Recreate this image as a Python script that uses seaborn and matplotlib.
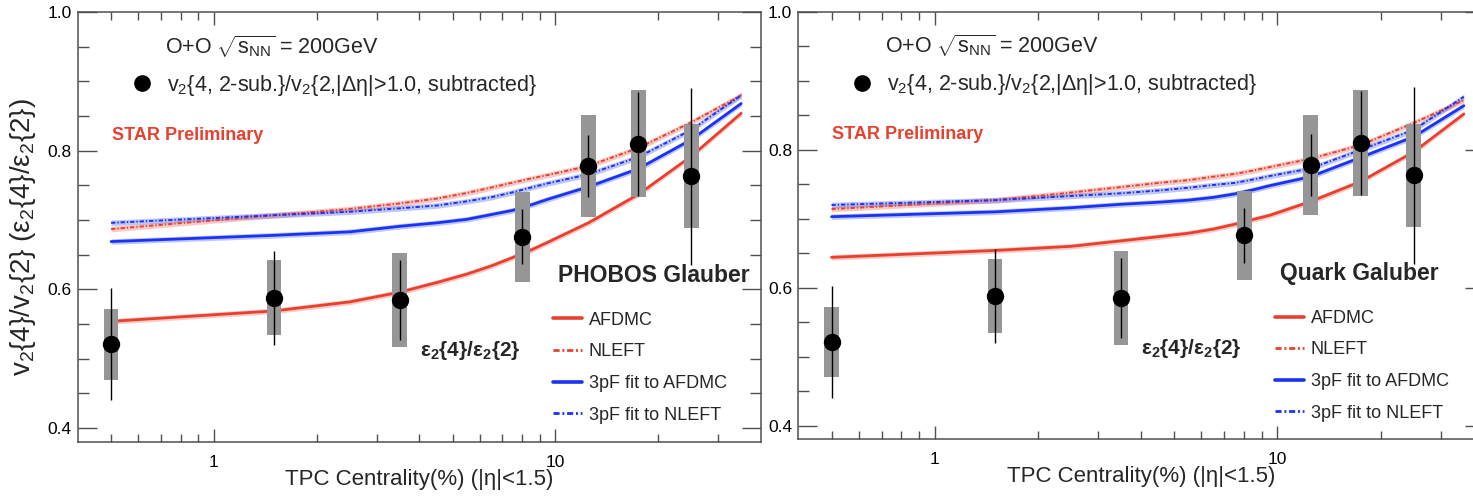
import matplotlib
matplotlib.use("Agg")
import numpy as np
import matplotlib.pyplot as plt
import seaborn as sns
from matplotlib.lines import Line2D

# ---- STAR measurement: v2{4, 2-sub.}/v2{2, |deta|>1.0, subtracted} ----
cent = [0.5, 1.5, 3.5, 8.0, 12.5, 17.5, 25.0]
ratio = [0.521, 0.588, 0.585, 0.676, 0.778, 0.810, 0.763]
stat_err = [0.081, 0.068, 0.058, 0.040, 0.045, 0.075, 0.128]
sys_err = [0.051, 0.054, 0.068, 0.065, 0.073, 0.077, 0.075]

# ---- model eps2{4}/eps2{2} vs centrality ----
model_cent = [0.5, 1.5, 2.5, 3.5, 4.5, 5.5, 6.5, 7.5, 8.5, 9.5, 12.5, 17.5, 25.0, 35.0]

phobos_afdmc = [0.554, 0.569, 0.582, 0.596, 0.610, 0.622, 0.634, 0.646, 0.657, 0.668, 0.696, 0.737, 0.792, 0.854]
phobos_nleft = [0.687, 0.707, 0.716, 0.724, 0.731, 0.739, 0.747, 0.754, 0.760, 0.765, 0.778, 0.804, 0.841, 0.880]
phobos_3pf_afdmc = [0.669, 0.678, 0.683, 0.691, 0.696, 0.701, 0.708, 0.714, 0.722, 0.730, 0.748, 0.774, 0.816, 0.868]
phobos_3pf_nleft = [0.696, 0.707, 0.712, 0.717, 0.721, 0.727, 0.733, 0.740, 0.747, 0.753, 0.766, 0.791, 0.830, 0.880]

quark_afdmc = [0.644, 0.654, 0.660, 0.668, 0.674, 0.679, 0.685, 0.692, 0.699, 0.705, 0.725, 0.754, 0.797, 0.852]
quark_nleft = [0.714, 0.727, 0.738, 0.746, 0.752, 0.756, 0.761, 0.765, 0.770, 0.775, 0.787, 0.807, 0.839, 0.872]
quark_3pf_afdmc = [0.703, 0.710, 0.716, 0.721, 0.724, 0.727, 0.731, 0.736, 0.742, 0.748, 0.761, 0.789, 0.819, 0.864]
quark_3pf_nleft = [0.720, 0.727, 0.733, 0.737, 0.741, 0.745, 0.749, 0.752, 0.757, 0.762, 0.773, 0.800, 0.829, 0.877]

model_band = 0.004  # half-width of the model uncertainty band

model_names = ["AFDMC", "NLEFT", "3pF fit to AFDMC", "3pF fit to NLEFT"]
panel_titles = ["PHOBOS Glauber", "Quark Galuber"]

x_major = [1, 10]
x_major_labels = ["1", "10"]
x_minor = [0.5, 0.6, 0.7, 0.8, 0.9, 2, 3, 4, 5, 6, 7, 8, 9, 20, 30]
y_major = [0.4, 0.6, 0.8, 1.0]
y_major_labels = ["0.4", "0.6", "0.8", "1.0"]
y_minor = [0.45, 0.5, 0.55, 0.65, 0.7, 0.75, 0.85, 0.9, 0.95]

# ---- style ----
sns.set_theme(style="ticks")
plt.rcParams["font.family"] = ["Liberation Sans", "DejaVu Sans"]
plt.rcParams["mathtext.fontset"] = "custom"
plt.rcParams["mathtext.rm"] = "Liberation Sans"
plt.rcParams["mathtext.it"] = "Liberation Sans:italic"
plt.rcParams["mathtext.bf"] = "Liberation Sans:bold"
plt.rcParams["mathtext.default"] = "regular"

RED = "#e8402f"
BLUE = "#1a33f2"
GREY = "#969696"
AXIS = "#505050"
DASHDOT = (0, (2.2, 1.0, 0.7, 1.0))

line_styles = {
    "AFDMC": (RED, "-", 2.0),
    "NLEFT": (RED, DASHDOT, 1.4),
    "3pF fit to AFDMC": (BLUE, "-", 2.0),
    "3pF fit to NLEFT": (BLUE, DASHDOT, 1.4),
}

fig = plt.figure(figsize=(14.73, 4.98), dpi=100)
ax1 = fig.add_axes([78 / 1473, 1 - 442 / 498, 683 / 1473, 430 / 498])
ax2 = fig.add_axes([798.3 / 1473, 1 - 439.3 / 498, 685.4 / 1473, 427.3 / 498])

panels = [
    (ax1, [phobos_afdmc, phobos_nleft, phobos_3pf_afdmc, phobos_3pf_nleft], panel_titles[0]),
    (ax2, [quark_afdmc, quark_nleft, quark_3pf_afdmc, quark_3pf_nleft], panel_titles[1]),
]

box_factor = 1.0506  # half-width of systematic boxes (multiplicative, log axis)

for ax, curves, title in panels:
    ax.set_xscale("log")
    ax.set_xlim(0.4, 40)
    ax.set_ylim(0.38, 1.0)

    # model curves with uncertainty bands
    handles = []
    for name, vals in zip(model_names, curves):
        color, ls, lw = line_styles[name]
        v = np.asarray(vals)
        ax.fill_between(model_cent, v - model_band, v + model_band,
                        color=color, alpha=0.28, lw=0, zorder=1)
        sns.lineplot(x=model_cent, y=vals, ax=ax, color=color, linestyle=ls,
                     lw=lw, estimator=None, legend=False, zorder=2)
        handles.append(Line2D([], [], color=color, linestyle=ls, lw=2.6 if ls == "-" else 2.0))

    # systematic boxes
    c = np.asarray(cent)
    r = np.asarray(ratio)
    s = np.asarray(sys_err)
    ax.bar(c / box_factor, 2 * s, width=c * box_factor - c / box_factor,
           bottom=r - s, align="edge", color=GREY, lw=0, zorder=3)
    # points with statistical errors
    ax.errorbar(cent, ratio, yerr=stat_err, fmt="o", color="black", ms=11.5,
                elinewidth=1.0, capsize=0, zorder=4)

    # axes cosmetics
    ax.set_xticks(x_major)
    ax.set_xticklabels(x_major_labels, fontsize=12.5)
    ax.set_xticks(x_minor, minor=True)
    ax.set_xticklabels([], minor=True)
    ax.set_yticks(y_major)
    ax.set_yticklabels(y_major_labels, fontsize=12.5)
    ax.set_yticks(y_minor, minor=True)
    for sp in ax.spines.values():
        sp.set_color(AXIS)
        sp.set_linewidth(1.1)
    ax.tick_params(which="both", direction="in", top=True, right=True,
                   color=AXIS, width=1.0, labelcolor="black")
    ax.tick_params(axis="y", which="major", length=14, pad=4.5)
    ax.tick_params(axis="y", which="minor", length=8)
    ax.tick_params(axis="x", which="major", length=9.5, pad=9)
    ax.tick_params(axis="x", which="minor", length=6)

    ax.set_xlabel("TPC Centrality(%) (|η|<1.5)", fontsize=16)
    ax.xaxis.set_label_coords(0.5, -0.063)

    # annotations
    ax.text(0.127, 0.902, r"O+O $\sqrt{s_{NN}}$ = 200GeV", transform=ax.transAxes,
            fontsize=15.5, va="baseline")
    ax.plot([0.0934], [0.834], "o", color="black", ms=11, transform=ax.transAxes,
            clip_on=False)
    ax.text(0.1299, 0.817, r"v$_2${4, 2-sub.}/v$_2${2,|Δη|>1.0, subtracted}",
            transform=ax.transAxes, fontsize=15.5, va="baseline")
    ax.text(0.0498, 0.702, "STAR Preliminary", transform=ax.transAxes, color=RED,
            fontsize=13, fontweight="bold", va="baseline")
    ax.text(0.703, 0.372, title, transform=ax.transAxes, fontsize=16.5,
            fontweight="bold", va="baseline")
    ax.text(0.5007, 0.212, r"ε$_\mathbf{2}${4}/ε$_\mathbf{2}${2}", transform=ax.transAxes,
            fontsize=15, fontweight="bold", va="center")

    ax.legend(handles, model_names, loc="upper left", bbox_to_anchor=(0.695, 0.303),
              frameon=False, fontsize=13, handlelength=1.6, handletextpad=0.4,
              labelspacing=0.81, borderpad=0, borderaxespad=0)

ax1.set_ylabel(r"v$_2${4}/v$_2${2} (ε$_2${4}/ε$_2${2})", fontsize=20)
ax1.yaxis.set_label_coords(-0.0586, 0.477)

fig.savefig("out.png", dpi=100)
